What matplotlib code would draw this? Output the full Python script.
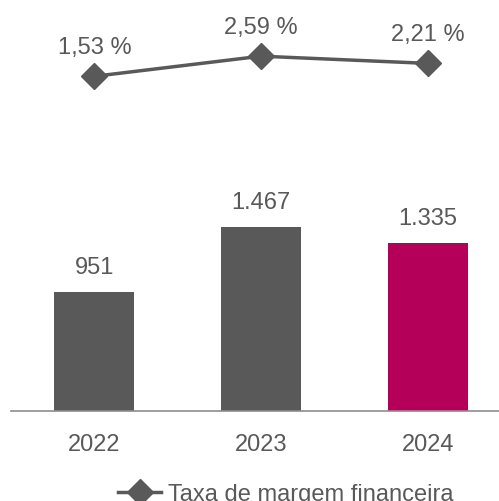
import matplotlib
matplotlib.use("Agg")
import matplotlib.pyplot as plt
from matplotlib.lines import Line2D

years = ["2022", "2023", "2024"]
margem = [951, 1467, 1335]
taxa = [1.53, 2.59, 2.21]
bar_labels = ["951", "1.467", "1.335"]
taxa_labels = ["1,53 %", "2,59 %", "2,21 %"]
legend_label = "Taxa de margem financeira"

GRAY = "#595959"
MAGENTA = "#b5005a"
TEXT = "#595959"
colors = [GRAY, GRAY, MAGENTA]

plt.rcParams['font.family'] = ['Liberation Sans', 'DejaVu Sans']
FS = 17

W, H = 499, 502
fig = plt.figure(figsize=(W / 100, H / 100), dpi=100)
left = 11 / W
bottom = (H - 412) / H
ax = fig.add_axes([left, bottom, 1 - left, 412 / H])
x = list(range(len(years)))
ax.bar(x, margem, width=0.48, color=colors, zorder=2)
ax.set_xlim(-0.5, -0.5 + 488 / 166.75)
ax.set_ylim(0, 3280)
for xi, v, lab in zip(x, margem, bar_labels):
    ax.annotate(lab, (xi, v), xytext=(0, 10), textcoords="offset points",
                ha="center", va="bottom", fontsize=FS, color=TEXT)
for s in ["top", "right", "left"]:
    ax.spines[s].set_visible(False)
ax.spines["bottom"].set_color("#8c8c8c")
ax.spines["bottom"].set_linewidth(1.2)
ax.set_yticks([])
ax.set_xticks(x)
ax.set_xticklabels(years, fontsize=FS, color=TEXT)
ax.tick_params(axis="x", length=0, pad=15.5)

ax2 = ax.twinx()
ax2.set_ylim(-16.09, 5.60)
ax2.plot(x, taxa, color=GRAY, lw=2.5, marker="D", ms=13.5, zorder=3)
for xi, v, lab in zip(x, taxa, taxa_labels):
    ax2.annotate(lab, (xi, v), xytext=(0, 13), textcoords="offset points",
                 ha="center", va="bottom", fontsize=FS, color=TEXT)
ax2.set_yticks([])
for s in ["top", "right", "left", "bottom"]:
    ax2.spines[s].set_visible(False)

handle = Line2D([0], [0], color=GRAY, lw=2.5, marker="D", ms=13.5)
fig.legend([handle], [legend_label], loc="center", bbox_to_anchor=(286 / W, 1 - 495 / H),
           frameon=False, fontsize=FS, labelcolor=TEXT, handlelength=1.8, handletextpad=0.3)

fig.savefig("out.png", dpi=100)
